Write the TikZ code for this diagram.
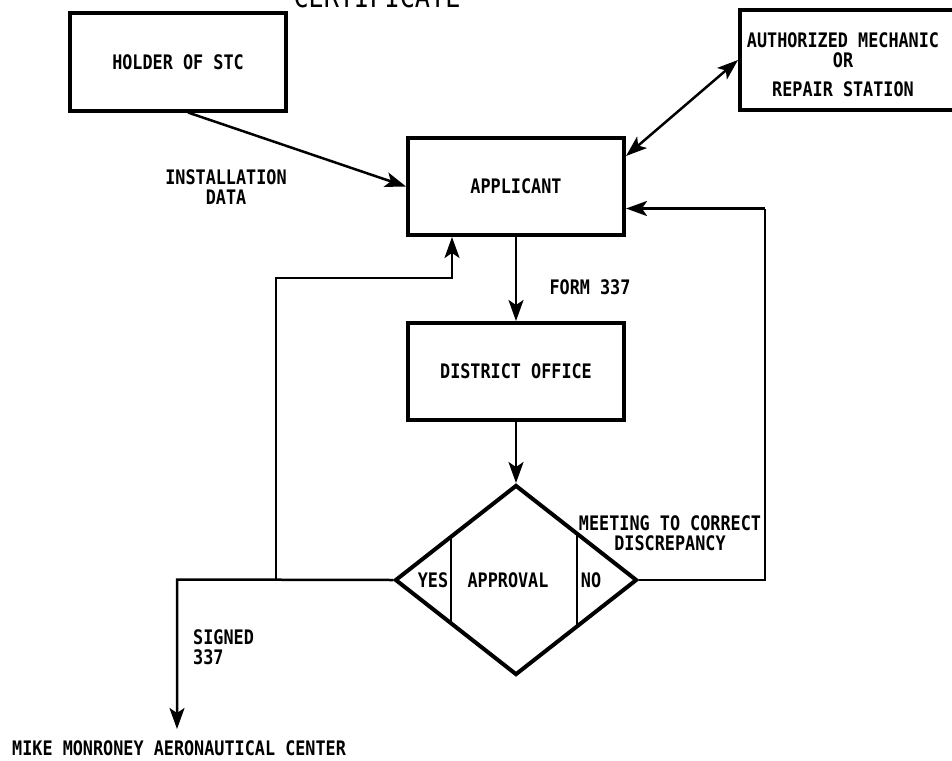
\documentclass[tikz,border=0pt]{standalone}
\usepackage{fontspec}
\newfontfamily\chartfont[FakeStretch=0.84]{DejaVu Sans Mono}
\usepackage{tikz}
\usetikzlibrary{calc}
\usetikzlibrary{arrows.meta}
\usetikzlibrary{shapes.geometric}
\tikzset{
    box/.style={draw, line width=4pt, minimum width=216pt, minimum height=97pt, inner sep=0pt, align=center},
    txt/.style={inner sep=0pt, align=center},
    flow/.style={line width=2.5pt, -{Stealth[length=21pt,width=15pt,inset=5pt]}},
    flowboth/.style={line width=2.5pt, {Stealth[length=21pt,width=15pt,inset=5pt]}-{Stealth[length=21pt,width=15pt,inset=5pt]}},
    wire/.style={line width=2.5pt}
}

\begin{document}
\begin{tikzpicture}[x=1pt, y=-1pt, font=\chartfont\bfseries\fontsize{20}{20}\selectfont]
            \useasboundingbox (0,0) rectangle (952,760);
            \node[txt, font=\chartfont\fontsize{30}{30}\selectfont] (title) at (377,-3) {CERTIFICATE};
            \node[box] (holder) at (178,62) {HOLDER OF STC};
            \node[box, minimum width=222pt, minimum height=100pt] (auth) at (851,60) {};
            \node[txt] (authtext) at (843,65) {AUTHORIZED MECHANIC\\OR\\[9pt]REPAIR STATION};
            \node[box] (applicant) at (516,186.5) {APPLICANT};
            \node[box] (district) at (516,371.5) {DISTRICT OFFICE};
            \node[diamond, draw, line width=4pt, minimum width=242pt, minimum height=190pt, inner sep=0pt] (approval) at (516,580) {};
            \node[txt] (apprtext) at (508,580) {APPROVAL};
            \node[txt] (yes) at (433,580) {YES};
            \node[txt] (no) at (591,580) {NO};
            \draw[line width=2.5pt] ($(approval.center)+(-65,-44)$) -- ($(approval.center)+(-65,44)$);
            \draw[line width=2.5pt] ($(approval.center)+(61,-47)$) -- ($(approval.center)+(61,47)$);
            \node[txt, anchor=west] (mmac) at (12,748) {MIKE MONRONEY AERONAUTICAL CENTER};
            \coordinate (signedcorner) at (177,579.5);
            \coordinate (signedend) at (177,729);
            \coordinate (lloop) at (276,278);
            \coordinate (rloop) at (765,208.5);
            \draw[flow] ([xshift=10pt]holder.south) -- (applicant.west);
            \node[txt] (install) at (226,187) {INSTALLATION\\DATA};
            \draw[flowboth] ([yshift=-20pt]applicant.north east) -- (auth.west);
            \draw[flow] (applicant.south) -- (district.north);
            \node[txt] (form) at (590,287) {FORM 337};
            \draw[flow] (district.south) -- (approval.north);
            \draw[flow] (approval.west) -- (signedcorner) -- (signedend);
            \node[txt, anchor=west, align=left] (signed) at (193,647) {SIGNED\\ 337};
            \draw[flow] (approval.west -| lloop) -- (lloop) -| ([xshift=-64pt]applicant.south);
            \draw[wire] (approval.east) -| (rloop);
            \draw[flow] (rloop) -- (applicant.east |- rloop);
            \node[txt] (meeting) at (670,533) {MEETING TO CORRECT\\DISCREPANCY};
        \end{tikzpicture}
\end{document}
